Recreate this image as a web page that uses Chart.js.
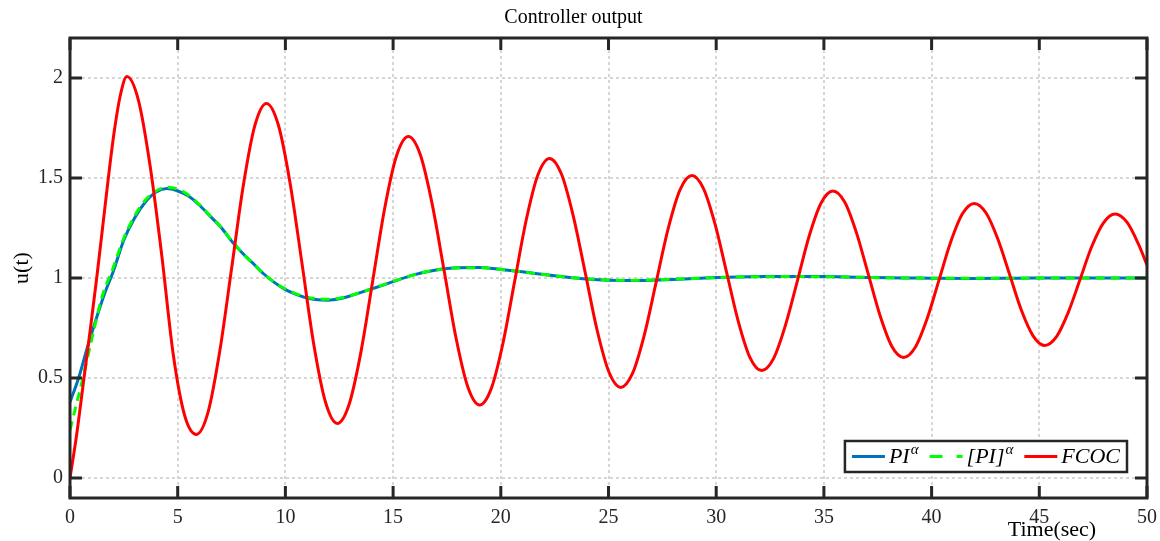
<!DOCTYPE html>
<html>
<head>
<meta charset="utf-8">
<script src="https://cdn.jsdelivr.net/npm/chart.js@4.4.0/dist/chart.umd.min.js"></script>
<style>
  html, body { margin: 0; padding: 0; background: #fff; }
</style>
</head>
<body>
<canvas id="chart" width="1160" height="541"></canvas>
<script>
// ---- data ----
const xTicks = [0, 5, 10, 15, 20, 25, 30, 35, 40, 45, 50];
const yTicks = [0, 0.5, 1, 1.5, 2];

const seriesNames = ['PI', '[PI]', 'FCOC'];
const seriesSup = ['\u03b1', '\u03b1', ''];

// PI^alpha
const tPi = [0, 0.4, 0.8, 1.2, 1.6, 2.0, 2.5, 3.0, 3.5, 4.0, 4.5, 5.0, 5.5, 6.0, 6.5, 7.0, 7.5, 8.0, 8.5,
  9.0, 9.5, 10.0, 10.5, 11.0, 11.5, 12.0, 12.5, 13.0, 14, 15, 16, 17, 18, 19, 20, 21, 22, 23, 24, 25,
  26, 27, 28, 29, 30, 31, 32, 33, 34, 35, 36, 37, 38, 39, 40, 42, 44, 46, 48, 50];
const piAlpha = [0.38, 0.50, 0.65, 0.79, 0.92, 1.03, 1.19, 1.30, 1.38, 1.43, 1.447, 1.435, 1.41, 1.365, 1.31, 1.255, 1.185, 1.125, 1.073,
  1.02, 0.977, 0.942, 0.918, 0.90, 0.891, 0.889, 0.896, 0.91, 0.945, 0.982, 1.017, 1.040, 1.051, 1.052, 1.043, 1.031, 1.017, 1.005, 0.995, 0.989,
  0.987, 0.989, 0.993, 0.998, 1.002, 1.005, 1.007, 1.008, 1.008, 1.007, 1.005, 1.003, 1.001, 1.000, 0.999, 0.998, 0.999, 1.000, 1.000, 1.000];

// [PI]^alpha
const tPiBr = [0, 0.3, 0.6, 1.0, 1.5, 2.0, 2.5, 3.0, 3.5, 4.0, 4.5, 5.0, 5.5, 6.0, 6.5, 7.0, 7.5, 8.0, 8.5,
  9.0, 9.5, 10.0, 10.5, 11.0, 11.5, 12.0, 12.5, 13.0, 14, 15, 16, 17, 18, 19, 20, 21, 22, 23, 24, 25,
  26, 27, 28, 29, 30, 31, 32, 33, 34, 35, 36, 37, 38, 39, 40, 42, 44, 46, 48, 50];
const piBrAlpha = [0.24, 0.37, 0.50, 0.69, 0.91, 1.05, 1.20, 1.31, 1.39, 1.435, 1.454, 1.445, 1.415, 1.368, 1.312, 1.255, 1.187, 1.125, 1.072,
  1.02, 0.978, 0.945, 0.921, 0.904, 0.896, 0.894, 0.899, 0.912, 0.946, 0.983, 1.017, 1.040, 1.050, 1.051, 1.043, 1.031, 1.017, 1.005, 0.996, 0.990,
  0.988, 0.990, 0.994, 0.998, 1.002, 1.005, 1.006, 1.007, 1.007, 1.006, 1.005, 1.003, 1.001, 1.000, 0.999, 0.999, 0.999, 1.000, 1.000, 1.000];

// FCOC
const tFcoc = [0, 0.3, 0.65, 0.95, 1.24, 1.5, 1.78, 2.05, 2.35, 2.64,
  3.18, 3.72, 4.26, 4.79, 5.33, 5.87,
  6.41, 6.95, 7.50, 8.04, 8.58, 9.12,
  9.67, 10.22, 10.77, 11.31, 11.86, 12.41,
  12.96, 13.51, 14.06, 14.61, 15.16, 15.71,
  16.26, 16.81, 17.37, 17.92, 18.47, 19.02,
  19.56, 20.10, 20.64, 21.18, 21.72, 22.26,
  22.81, 23.36, 23.92, 24.47, 25.02, 25.57,
  26.12, 26.67, 27.22, 27.77, 28.32, 28.87,
  29.41, 29.95, 30.49, 31.03, 31.57, 32.11,
  32.66, 33.21, 33.77, 34.32, 34.87, 35.42,
  35.97, 36.51, 37.06, 37.61, 38.15, 38.70,
  39.25, 39.79, 40.34, 40.89, 41.43, 41.98,
  42.53, 43.07, 43.62, 44.16, 44.71, 45.25,
  45.80, 46.34, 46.89, 47.43, 47.98, 48.52,
  49.07, 49.61, 50];
const fcoc = [0, 0.21, 0.5, 0.75, 1.0, 1.24, 1.5, 1.73, 1.92, 2.007,
  1.887, 1.560, 1.113, 0.62, 0.31, 0.218,
  0.329, 0.632, 1.046, 1.459, 1.762, 1.873,
  1.766, 1.473, 1.073, 0.673, 0.380, 0.273,
  0.369, 0.632, 0.990, 1.349, 1.611, 1.707,
  1.617, 1.372, 1.036, 0.701, 0.455, 0.365,
  0.448, 0.674, 0.982, 1.290, 1.515, 1.598,
  1.521, 1.312, 1.026, 0.740, 0.530, 0.453,
  0.524, 0.718, 0.983, 1.247, 1.441, 1.512,
  1.447, 1.268, 1.025, 0.781, 0.602, 0.537,
  0.597, 0.762, 0.986, 1.211, 1.375, 1.435,
  1.379, 1.227, 1.019, 0.811, 0.659, 0.603,
  0.655, 0.796, 0.988, 1.181, 1.321, 1.373,
  1.325, 1.196, 1.018, 0.841, 0.711, 0.663,
  0.707, 0.827, 0.992, 1.156, 1.276, 1.32,
  1.279, 1.168, 1.065];

const SERIF = '"Liberation Serif", "Times New Roman", serif';
const FRAME = '#262626';

const pts = (ts, vs) => ts.map((t, i) => ({ x: t, y: vs[i] }));

// box, inward ticks, legend and axis labels drawn on top
const framePlugin = {
  id: 'frame',
  afterDraw(chart) {
    const { ctx, chartArea: a, scales: { x, y } } = chart;
    ctx.save();
    ctx.strokeStyle = FRAME;
    ctx.lineWidth = 3;
    ctx.beginPath();
    xTicks.forEach(v => {
      const px = x.getPixelForValue(v);
      ctx.moveTo(px, a.bottom); ctx.lineTo(px, a.bottom - 12);
      ctx.moveTo(px, a.top); ctx.lineTo(px, a.top + 12);
    });
    yTicks.forEach(v => {
      const py = y.getPixelForValue(v);
      ctx.moveTo(a.left, py); ctx.lineTo(a.left + 12, py);
      ctx.moveTo(a.right, py); ctx.lineTo(a.right - 12, py);
    });
    ctx.stroke();
    ctx.strokeRect(a.left, a.top, a.right - a.left, a.bottom - a.top);

    // axis labels
    ctx.fillStyle = '#000';
    ctx.font = '22px ' + SERIF;
    ctx.textAlign = 'center';
    ctx.textBaseline = 'middle';
    ctx.fillText('Time(sec)', 1052, 530);
    ctx.save();
    ctx.translate(22, (a.top + a.bottom) / 2);
    ctx.rotate(-Math.PI / 2);
    ctx.fillText('u(t)', 0, 0);
    ctx.restore();

    // legend
    const mainFont = 'italic 22px ' + SERIF;
    const supFont = 'italic 15px ' + SERIF;
    const lineLen = 33, pad = 7, gap = 11;
    const widths = chart.data.datasets.map((ds, i) => {
      ctx.font = mainFont;
      const w = ctx.measureText(seriesNames[i]).width;
      ctx.font = supFont;
      const sw = seriesSup[i] ? ctx.measureText(seriesSup[i]).width + 1 : 0;
      return { w, sw };
    });
    let total = pad * 2 + gap * (widths.length - 1);
    widths.forEach(o => { total += lineLen + 4 + o.w + o.sw; });
    const boxRight = 1127, boxTop = 441, boxH = 31;
    const boxLeft = boxRight - total;
    const cy = boxTop + boxH / 2;
    ctx.fillStyle = '#fff';
    ctx.fillRect(boxLeft, boxTop, total, boxH);
    ctx.lineWidth = 2.5;
    ctx.strokeStyle = FRAME;
    ctx.strokeRect(boxLeft, boxTop, total, boxH);
    let cx = boxLeft + pad;
    chart.data.datasets.forEach((ds, i) => {
      ctx.save();
      ctx.strokeStyle = ds.borderColor;
      ctx.lineWidth = ds.borderWidth;
      ctx.setLineDash(ds.borderDash && ds.borderDash.length ? [13, 14] : []);
      ctx.beginPath();
      ctx.moveTo(cx, cy); ctx.lineTo(cx + lineLen, cy);
      ctx.stroke();
      ctx.restore();
      cx += lineLen + 4;
      ctx.fillStyle = '#000';
      ctx.textAlign = 'left';
      ctx.textBaseline = 'middle';
      ctx.font = mainFont;
      ctx.fillText(seriesNames[i], cx, cy + 1);
      cx += widths[i].w + 1;
      if (seriesSup[i]) {
        ctx.font = supFont;
        ctx.fillText(seriesSup[i], cx, cy - 6);
      }
      cx += widths[i].sw - 1 + gap;
    });
    ctx.restore();
  }
};

const ctx = document.getElementById('chart').getContext('2d');
new Chart(ctx, {
  type: 'line',
  data: {
    datasets: [
      {
        label: seriesNames[0] + seriesSup[0],
        data: pts(tPi, piAlpha),
        borderColor: '#0072BD',
        borderWidth: 3,
        order: 2,
      },
      {
        label: seriesNames[1] + seriesSup[1],
        data: pts(tPiBr, piBrAlpha),
        borderColor: '#00FF00',
        borderWidth: 3,
        borderDash: [9, 6],
        order: 1,
      },
      {
        label: seriesNames[2],
        data: pts(tFcoc, fcoc),
        borderColor: '#FF0000',
        borderWidth: 3,
        order: 0,
      },
    ],
  },
  options: {
    responsive: false,
    animation: false,
    layout: { padding: { top: 0, right: 13, bottom: 0, left: 0 } },
    elements: {
      point: { radius: 0 },
      line: { cubicInterpolationMode: 'monotone', fill: false },
    },
    plugins: {
      legend: { display: false },
      tooltip: { enabled: false },
      title: {
        display: true,
        text: 'Controller output',
        color: '#000',
        font: { family: SERIF, size: 20, weight: 'normal' },
        padding: { top: 6, bottom: 8 },
      },
    },
    scales: {
      x: {
        type: 'linear',
        min: 0,
        max: 50,
        afterBuildTicks: (s) => { s.ticks = xTicks.map(v => ({ value: v })); },
        afterFit: (s) => { s.height = 43; s.paddingLeft = 0; s.paddingRight = 0; },
        grid: { color: '#d6d6d6', lineWidth: 2, drawTicks: false },
        border: { display: false, dash: [3, 3] },
        ticks: {
          color: '#262626',
          padding: 8,
          maxRotation: 0,
          font: { family: SERIF, size: 20 },
          callback: (v) => String(v),
        },
      },
      y: {
        type: 'linear',
        min: -0.1,
        max: 2.2,
        afterBuildTicks: (s) => { s.ticks = yTicks.map(v => ({ value: v })); },
        afterFit: (s) => { s.width = 70; s.paddingTop = 0; s.paddingBottom = 0; },
        grid: { color: '#d6d6d6', lineWidth: 2, drawTicks: false },
        border: { display: false, dash: [3, 3] },
        ticks: {
          color: '#262626',
          padding: 7,
          font: { family: SERIF, size: 20 },
          callback: (v) => String(v),
        },
      },
    },
  },
  plugins: [framePlugin],
});
</script>
</body>
</html>
